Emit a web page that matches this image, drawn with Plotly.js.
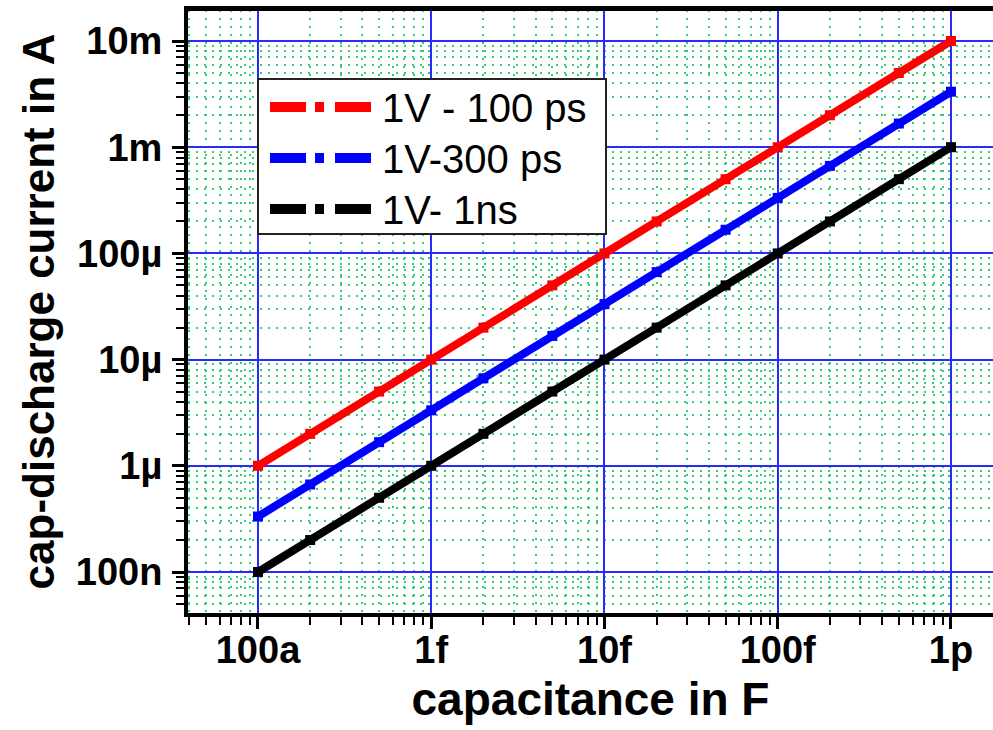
<!DOCTYPE html>
<html>
<head>
<meta charset="utf-8">
<script src="https://cdn.plot.ly/plotly-3.0.1.min.js"></script>
<style>html,body{margin:0;padding:0;background:#fff;}#chart{width:993px;height:730px;}</style>
</head>
<body>
<div id="chart"></div>
<script>
// ---- data ----
const capacitance = [1e-16, 2e-16, 5e-16, 1e-15, 2e-15, 5e-15, 1e-14, 2e-14, 5e-14, 1e-13, 2e-13, 5e-13, 1e-12];
const current100ps = [1e-6, 2e-6, 5e-6, 1e-5, 2e-5, 5e-5, 1e-4, 2e-4, 5e-4, 1e-3, 2e-3, 5e-3, 1e-2];
const current300ps = [3.33e-7, 6.67e-7, 1.67e-6, 3.33e-6, 6.67e-6, 1.67e-5, 3.33e-5, 6.67e-5, 1.67e-4, 3.33e-4, 6.67e-4, 1.67e-3, 3.33e-3];
const current1ns = [1e-7, 2e-7, 5e-7, 1e-6, 2e-6, 5e-6, 1e-5, 2e-5, 5e-5, 1e-4, 2e-4, 5e-4, 1e-3];
const seriesNames = ["1V - 100 ps", "1V-300 ps", "1V- 1ns"];
const seriesColors = ["#ff0000", "#0000ff", "#000000"];
const xTickVals = [1e-16, 1e-15, 1e-14, 1e-13, 1e-12];
const xTickText = ["100a", "1f", "10f", "100f", "1p"];
const yTickVals = [1e-7, 1e-6, 1e-5, 1e-4, 1e-3, 1e-2];
const yTickText = ["100n", "1µ", "10µ", "100µ", "1m", "10m"];
const xTitle = "capacitance in F";
const yTitle = "cap-discharge current in A";

// ---- layout geometry ----
const W = 993, H = 730;
const M = {l: 188, r: 0, t: 10, b: 117};
const PW = W - M.l - M.r, PH = H - M.t - M.b;
const px = x => (x - M.l) / PW;          // pixel -> paper x
const py = y => (H - M.b - y) / PH;      // pixel -> paper y

const ys = [current100ps, current300ps, current1ns];
const traces = ys.map((y, i) => ({
  x: capacitance, y: y, type: 'scatter', mode: 'lines+markers',
  name: seriesNames[i], showlegend: false,
  line: {color: seriesColors[i], width: 8},
  marker: {color: seriesColors[i], symbol: 'square', size: 10},
  hoverinfo: 'skip'
}));

const font = {family: 'Liberation Sans, Arial, sans-serif', color: '#000'};
const shapes = [
  // top frame line
  {type: 'line', xref: 'paper', yref: 'paper', x0: 0, x1: 1, y0: py(9), y1: py(9),
   line: {color: '#000', width: 4}, layer: 'above'},
  // legend box
  {type: 'rect', xref: 'paper', yref: 'paper', x0: px(258), x1: px(606), y0: py(234), y1: py(79),
   fillcolor: '#fff', line: {color: '#222', width: 2}, layer: 'above'}
];
const annotations = [];
const rows = [107, 158, 209];
rows.forEach((r, i) => {
  const c = seriesColors[i];
  shapes.push({type: 'line', xref: 'paper', yref: 'paper', x0: px(270), x1: px(306), y0: py(r), y1: py(r), line: {color: c, width: 10}, layer: 'above'});
  shapes.push({type: 'rect', xref: 'paper', yref: 'paper', x0: px(315), x1: px(324), y0: py(r + 5), y1: py(r - 5), fillcolor: c, line: {width: 0}, layer: 'above'});
  shapes.push({type: 'line', xref: 'paper', yref: 'paper', x0: px(335), x1: px(371), y0: py(r), y1: py(r), line: {color: c, width: 10}, layer: 'above'});
  annotations.push({xref: 'paper', yref: 'paper', x: px(380), y: py(r + 1), xanchor: 'left', yanchor: 'middle',
    text: seriesNames[i], showarrow: false, font: Object.assign({}, font, {size: 40})});
});

const axisCommon = {
  type: 'log', showline: true, linecolor: '#000', linewidth: 4,
  ticks: 'outside', ticklen: 12, tickwidth: 3, tickcolor: '#000',
  showgrid: true, gridcolor: '#2a2aff', gridwidth: 2, zeroline: false,
  tickmode: 'array',
  tickfont: Object.assign({}, font, {size: 38, weight: 'bold'}),
  minor: {dtick: 'D1', ticks: 'outside', ticklen: 8, tickwidth: 2, tickcolor: '#000',
          showgrid: true, gridcolor: '#33cc77', griddash: '2px,6px', gridwidth: 2}
};

const layout = {
  width: W, height: H, margin: M, paper_bgcolor: '#fff', plot_bgcolor: '#fff',
  showlegend: false,
  xaxis: Object.assign({}, axisCommon, {
    mirror: true,
    range: [-16.404, -16.404 + PW / 173.25], tickvals: xTickVals, ticktext: xTickText,
    ticklabelstandoff: -12,
    title: {text: xTitle, font: Object.assign({}, font, {size: 46, weight: 'bold'}), standoff: 14}
  }),
  yaxis: Object.assign({}, axisCommon, {
    mirror: false,
    range: [-7.386, -7.386 + PH / 106.2], tickvals: yTickVals, ticktext: yTickText,
    ticklabelstandoff: 2,
    title: {text: yTitle, font: Object.assign({}, font, {size: 44, weight: 'bold'}), standoff: 8}
  }),
  shapes: shapes, annotations: annotations
};

Plotly.newPlot('chart', traces, layout, {staticPlot: true, displayModeBar: false});
</script>
</body>
</html>
